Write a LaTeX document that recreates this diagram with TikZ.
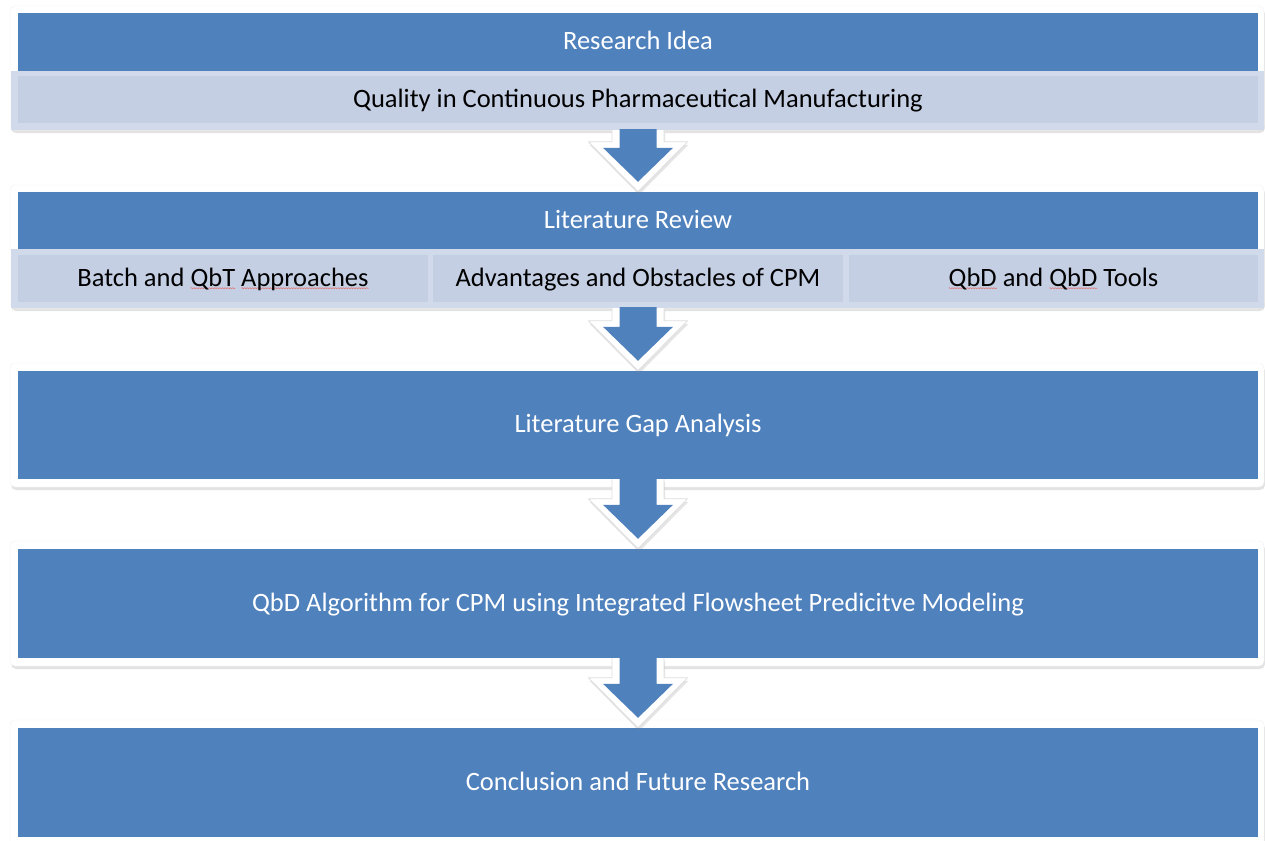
\documentclass[tikz,border=0pt]{standalone}
\usepackage{fontspec}
\setmainfont{Carlito}
\usetikzlibrary{calc,shadows,decorations.pathmorphing}
\definecolor{accent}{HTML}{4F81BD}
\definecolor{lightouter}{HTML}{D1DAEA}
\definecolor{lightinner}{HTML}{C4CFE4}
\definecolor{squigred}{HTML}{E07A7A}
\newsavebox\sqbox
\newcommand\squig[1]{\sbox\sqbox{#1}\tikz[overlay,baseline=0pt]{\draw[squigred,line width=0.6pt,decorate,decoration={snake,amplitude=0.55pt,segment length=2.6pt}] (0pt,-2.2pt) -- (\wd\sqbox,-2.2pt);}\usebox\sqbox}
\tikzset{
  panel/.style={fill=white,draw=black!5,rounded corners=5pt,drop shadow={opacity=0.22,shadow xshift=1pt,shadow yshift=-3pt}},
  bandb/.style={fill=accent,text=white,inner sep=0pt,text height=19pt,text depth=4pt,font=\fontsize{26.5}{30}\selectfont},
  bandl/.style={fill=lightouter,inner sep=0pt},
  celll/.style={fill=lightinner,text=black,inner sep=0pt,minimum height=47pt,text height=19pt,text depth=4pt,font=\fontsize{26.5}{30}\selectfont},
  arrowout/.style={fill=white,draw=black!13,line width=0.8pt,line join=round,drop shadow={opacity=0.2,shadow xshift=1pt,shadow yshift=-3pt}},
  arrowin/.style={fill=accent}
}
\newcommand\blockarrow[2]{%
  \path[arrowout] let \p1=(#1), \p2=(#2) in
    (\x2-26pt,\y1) -- (\x2-26pt,\y2+50pt) -- (\x2-49.5pt,\y2+50pt) -- (\x2,\y2) --
    (\x2+49.5pt,\y2+50pt) -- (\x2+26pt,\y2+50pt) -- (\x2+26pt,\y1);
  \path[arrowin] let \p1=(#1), \p2=(#2) in
    (\x2-18.5pt,\y1+1pt) -- (\x2-18.5pt,\y2+44pt) -- (\x2-35pt,\y2+44pt) -- (\x2,\y2+10pt) --
    (\x2+35pt,\y2+44pt) -- (\x2+18.5pt,\y2+44pt) -- (\x2+18.5pt,\y1+1pt) -- cycle;}
\begin{document}
\begin{tikzpicture}[x=1pt,y=-1pt]
\useasboundingbox (0,0) rectangle (1265,840);
\fill[white] (0,0) rectangle (1265,840);
% panel 1
\path[panel] (10,6) rectangle (1264,130);
\node[bandb,minimum width=1240pt,minimum height=58pt] (b1) at (638,42) {Research Idea};
\node[bandl,minimum width=1253pt,minimum height=59pt] (lb1) at (637.5,100.5) {};
\node[celll,minimum width=1240pt] (c1) at (638,99.5) {Quality in Continuous Pharmaceutical Manufacturing};
% panel 2
\path[panel] (10,185) rectangle (1264,308);
\node[bandb,minimum width=1240pt,minimum height=57pt] (b2) at (638,220.5) {Literature Review};
\node[bandl,minimum width=1253pt,minimum height=59pt] (lb2) at (637.5,278.5) {};
\node[celll,minimum width=410pt] (c21) at (223,278.5) {Batch and \squig{QbT} \squig{Approaches}};
\node[celll,minimum width=410pt] (c22) at (638,278.5) {Advantages and Obstacles of CPM};
\node[celll,minimum width=409pt] (c23) at (1053.5,278.5) {\squig{QbD} and \squig{QbD} Tools};
% panel 3
\path[panel] (10,363) rectangle (1264,487);
\node[bandb,minimum width=1240pt,minimum height=108pt] (b3) at (638,425) {Literature Gap Analysis};
% panel 4
\path[panel] (10,541) rectangle (1264,666);
\node[bandb,minimum width=1240pt,minimum height=109pt] (b4) at (638,603.5) {QbD Algorithm for CPM using Integrated Flowsheet Predicitve Modeling};
% panel 5
\path[panel] (10,720) rectangle (1264,860);
\node[bandb,minimum width=1240pt,minimum height=109pt] (b5) at (638,782.5) {Conclusion and Future Research};
% arrows
\blockarrow{lb1.south}{b2.north}
\blockarrow{lb2.south}{b3.north}
\blockarrow{b3.south}{b4.north}
\blockarrow{b4.south}{b5.north}
\end{tikzpicture}
\end{document}
